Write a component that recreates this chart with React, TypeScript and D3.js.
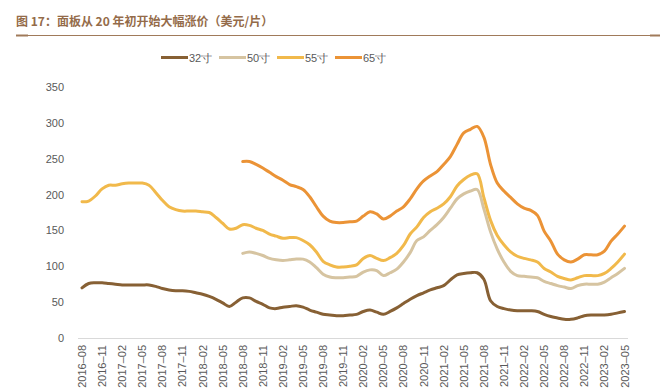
import React, { useEffect, useRef } from "react";
import * as d3 from "d3";

// monthly categories, 2016-08 .. 2023-05
const months: string[] = [];
for (let y = 2016, m = 8; y < 2023 || (y === 2023 && m <= 5); m++) {
  if (m > 12) { m = 1; y++; }
  if (y === 2023 && m > 5) break;
  months.push(`${y}-${String(m).padStart(2, "0")}`);
}

const tickLabels = months.filter((_, i) => i % 3 === 0);
const yTicks = [0, 50, 100, 150, 200, 250, 300, 350];

const s32 = [70, 76, 77, 77, 76, 75, 74, 74, 74, 74, 74, 72, 69, 67, 66, 66, 65, 63, 61, 58, 54, 49, 44, 50,
  56, 56, 51, 47, 42, 41, 43, 44, 45, 43, 39, 36, 33, 32, 31, 31, 32, 33, 37, 39, 36, 33, 37, 42,
  48, 54, 59, 63, 67, 70, 73, 81, 88, 90, 91, 91, 82, 52, 44, 41, 39, 38, 38, 38, 37, 33, 30, 28,
  26, 26, 28, 31, 32, 32, 32, 33, 35, 37];
const s50 = [118, 120, 118, 115, 111, 109, 108, 109, 110, 110, 106, 98, 89, 85, 84, 84, 85, 86, 92, 95, 94, 87,
  91, 96, 106, 119, 136, 141, 150, 158, 168, 181, 194, 201, 205, 207, 180, 148, 124, 106, 93, 87, 86, 85,
  84, 79, 76, 73, 71, 69, 73, 75, 75, 75, 78, 84, 90, 97];
const s55 = [190, 191, 198, 208, 213, 213, 215, 216, 216, 216, 213, 203, 192, 183, 179, 177, 177, 177, 176, 175,
  168, 160, 152, 153, 158, 157, 153, 150, 145, 142, 139, 140, 140, 136, 130, 120, 107, 102, 99, 99, 100, 102,
  111, 115, 111, 108, 112, 118, 129, 145, 155, 168, 176, 181, 187, 197, 212, 221, 227, 229, 196, 164, 143, 130,
  120, 114, 111, 109, 106, 97, 92, 86, 83, 81, 84, 87, 87, 87, 90, 97, 106, 117];
const s65 = [246, 246, 242, 237, 231, 225, 220, 214, 211, 207, 197, 183, 170, 163, 161, 161, 162, 163, 170, 176,
  173, 166, 170, 177, 183, 194, 208, 219, 226, 232, 242, 253, 270, 286, 291, 295, 280, 242, 216, 205, 196, 187,
  181, 178, 171, 149, 135, 117, 109, 106, 110, 116, 116, 116, 121, 135, 145, 156];

const seriesNames = ["32寸", "50寸", "55寸", "65寸"];
const seriesColors = ["#876034", "#d6c4a1", "#f1b94b", "#eb9336"];
const seriesStart = ["2016-08", "2018-08", "2016-08", "2018-08"];
const seriesValues = [s32, s50, s55, s65];

const W = 660;
const H = 391;
const FONT = "'Liberation Sans', Arial, sans-serif";

export default function App() {
  const svgRef = useRef<SVGSVGElement>(null);

  useEffect(() => {
    const svg = d3.select(svgRef.current);
    svg.selectAll("*").remove();

    // --- title ---
    svg.append("text")
      .attr("x", 16)
      .attr("y", 26)
      .attr("fill", "#946b49")
      .attr("font-family", "'Noto Sans CJK SC', sans-serif")
      .attr("font-weight", "bold")
      .attr("font-size", 12)
      .text("图 17：面板从 20 年初开始大幅涨价（美元/片）");

    svg.append("line")
      .attr("x1", 16).attr("x2", W).attr("y1", 35.5).attr("y2", 35.5)
      .attr("stroke", "#a07a5a").attr("stroke-width", 1);
    svg.append("line")
      .attr("x1", 16).attr("x2", 28).attr("y1", 35.5).attr("y2", 35.5)
      .attr("stroke", "#a07a5a").attr("stroke-width", 2);
    svg.append("line")
      .attr("x1", 650).attr("x2", W).attr("y1", 35.5).attr("y2", 35.5)
      .attr("stroke", "#a07a5a").attr("stroke-width", 2);

    // --- scales ---
    const x = d3.scalePoint<string>().domain(months).range([82, 624.5]);
    const y = d3.scaleLinear().domain([0, 350]).range([338, 87]);

    // --- y labels ---
    svg.append("g")
      .selectAll("text")
      .data(yTicks)
      .join("text")
      .attr("x", 64)
      .attr("y", d => y(d) + 4)
      .attr("text-anchor", "end")
      .attr("fill", "#595959")
      .attr("font-family", FONT)
      .attr("font-size", 11)
      .text(d => d);

    // --- x axis line ---
    svg.append("line")
      .attr("x1", 78).attr("x2", 628)
      .attr("y1", y(0) + 0.5).attr("y2", y(0) + 0.5)
      .attr("stroke", "#d9d9d9");

    // --- x labels ---
    svg.append("g")
      .selectAll("text")
      .data(tickLabels)
      .join("text")
      .attr("transform", d => `translate(${x(d)! + 4},345) rotate(-90)`)
      .attr("text-anchor", "end")
      .attr("fill", "#595959")
      .attr("font-family", FONT)
      .attr("font-size", 11)
      .text(d => d.replace("-", "–"));

    // --- lines ---
    const line = d3.line<[string, number]>()
      .x(d => x(d[0])!)
      .y(d => y(d[1]))
      .curve(d3.curveCatmullRom.alpha(0.5));

    seriesValues.forEach((vals, k) => {
      const start = months.indexOf(seriesStart[k]);
      const pts: [string, number][] = vals.map((v, i) => [months[start + i], v]);
      svg.append("path")
        .datum(pts)
        .attr("d", line)
        .attr("fill", "none")
        .attr("stroke", seriesColors[k])
        .attr("stroke-width", 3)
        .attr("stroke-linejoin", "round")
        .attr("stroke-linecap", "round");
    });

    // --- legend ---
    const legendX = [161, 219, 277, 335];
    const legend = svg.append("g");
    seriesNames.forEach((name, k) => {
      legend.append("line")
        .attr("x1", legendX[k]).attr("x2", legendX[k] + 27)
        .attr("y1", 57.5).attr("y2", 57.5)
        .attr("stroke", seriesColors[k]).attr("stroke-width", 3);
      legend.append("text")
        .attr("x", legendX[k] + 28)
        .attr("y", 61.5)
        .attr("fill", "#595959")
        .attr("font-family", FONT)
        .attr("font-size", 11)
        .text(name);
    });
  }, []);

  return (
    <div style={{ position: "absolute", left: 0, top: 0 }}>
      <svg ref={svgRef} width={W} height={H} style={{ display: "block", background: "#fff" }} />
    </div>
  );
}
